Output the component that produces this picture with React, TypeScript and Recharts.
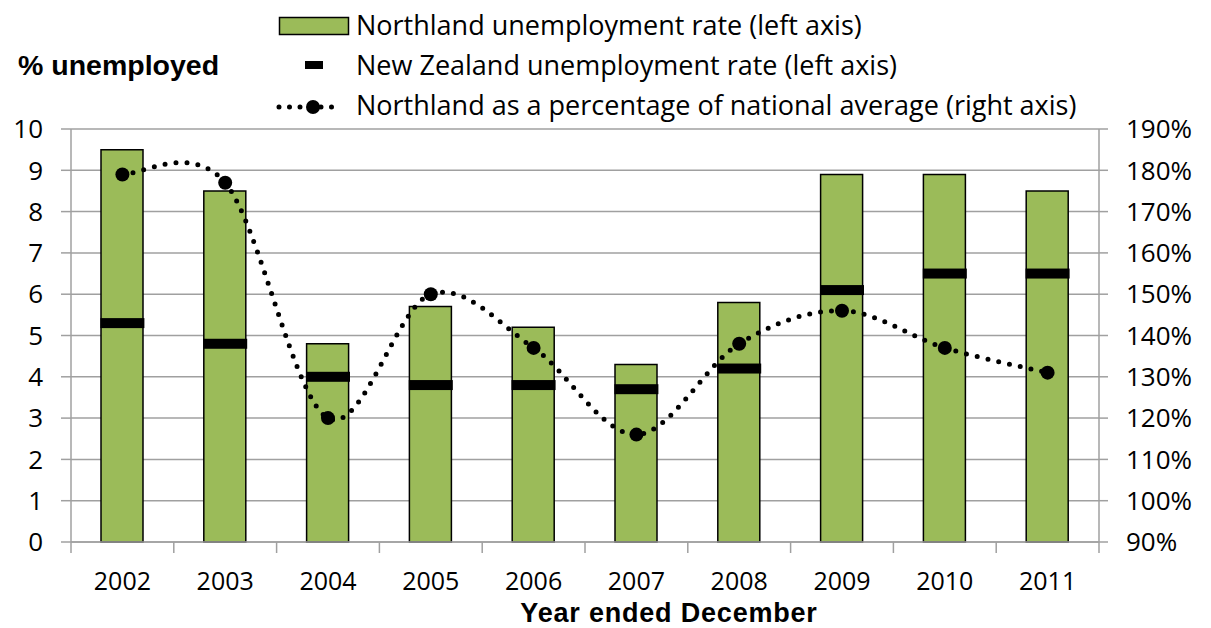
import React from "react";
import {
  Bar,
  CartesianGrid,
  ComposedChart,
  Line,
  XAxis,
  YAxis,
} from "recharts";

const years = ["2002", "2003", "2004", "2005", "2006", "2007", "2008", "2009", "2010", "2011"];
const northlandRate = [9.5, 8.5, 4.8, 5.7, 5.2, 4.3, 5.8, 8.9, 8.9, 8.5];
const nzRate = [5.3, 4.8, 4.0, 3.8, 3.8, 3.7, 4.2, 6.1, 6.5, 6.5];
const ratioPct = [179, 177, 120, 150, 137, 116, 138, 146, 137, 131];
const leftTicks = [0, 1, 2, 3, 4, 5, 6, 7, 8, 9, 10];
const rightTicks = [90, 100, 110, 120, 130, 140, 150, 160, 170, 180, 190];

const GREEN = "#9BBB59";
const GRID = "#A0A0A0";
const FONT = "'Open Sans', sans-serif";
const BOLD_FONT = "'Liberation Sans', Arial, sans-serif";

const W = 1211;
const H = 628;
const PLOT_LEFT = 71;
const PLOT_RIGHT = 1099;
const PLOT_TOP = 129;
const PLOT_BOTTOM = 542;
const BAND = (PLOT_RIGHT - PLOT_LEFT) / years.length;

// excel-like smoothed line (catmull-rom as bezier segments)
const curveExcel = (context: any) => {
  let pts: [number, number][] = [];
  return {
    areaStart() {},
    areaEnd() {},
    lineStart() {
      pts = [];
    },
    point(x: number, y: number) {
      pts.push([+x, +y]);
    },
    lineEnd() {
      if (!pts.length) return;
      context.moveTo(pts[0][0], pts[0][1]);
      for (let i = 0; i < pts.length - 1; i++) {
        const p0 = pts[i - 1] || pts[i];
        const p1 = pts[i];
        const p2 = pts[i + 1];
        const p3 = pts[i + 2] || p2;
        context.bezierCurveTo(
          p1[0] + (p2[0] - p0[0]) / 6,
          p1[1] + (p2[1] - p0[1]) / 6,
          p2[0] - (p3[0] - p1[0]) / 6,
          p2[1] - (p3[1] - p1[1]) / 6,
          p2[0],
          p2[1]
        );
      }
    },
  };
};

const data = years.map((year, i) => ({
  year,
  northland: northlandRate[i],
  nz: nzRate[i],
  ratio: ratioPct[i],
}));

const NzMark = (props: any) => {
  const { cx, cy, index } = props;
  if (cx == null || cy == null) return <g key={index} />;
  return <rect key={index} x={cx - 22} y={cy - 5} width={44} height={10} fill="#000" />;
};

const YearTick = (props: any) => {
  const { x, y, payload, index } = props;
  return (
    <g>
      <line x1={x - BAND / 2} x2={x - BAND / 2} y1={y} y2={y + 11} stroke={GRID} strokeWidth={1.5} />
      {index === years.length - 1 && (
        <line x1={x + BAND / 2} x2={x + BAND / 2} y1={y} y2={y + 11} stroke={GRID} strokeWidth={1.5} />
      )}
      <text x={x} y={y + 48} textAnchor="middle" fontSize={25} fontFamily={FONT} fill="#000">
        {payload.value}
      </text>
    </g>
  );
};

const tickStyle = { fontSize: 26, fontFamily: FONT, fill: "#000" };

const App: React.FC = () => {
  return (
    <div style={{ position: "absolute", left: 0, top: 0, width: W, height: H, background: "#fff" }}>
      <ComposedChart
        width={W}
        height={H}
        data={data}
        margin={{ top: PLOT_TOP, right: 0, bottom: 0, left: 0 }}
        barCategoryGap={0}
      >
        <CartesianGrid yAxisId="left" vertical={false} stroke={GRID} strokeWidth={1.5} />
        <XAxis
          dataKey="year"
          height={H - PLOT_BOTTOM}
          axisLine={{ stroke: GRID, strokeWidth: 1.5 }}
          tickLine={false}
          tickSize={0}
          tickMargin={0}
          tick={<YearTick />}
          interval={0}
        />
        <YAxis
          yAxisId="left"
          width={PLOT_LEFT}
          domain={[0, 10]}
          ticks={leftTicks}
          interval={0}
          axisLine={{ stroke: GRID, strokeWidth: 1.5 }}
          tickLine={{ stroke: GRID, strokeWidth: 1.5 }}
          tickSize={10}
          tickMargin={18}
          tick={tickStyle}
        />
        <YAxis
          yAxisId="right"
          orientation="right"
          width={W - PLOT_RIGHT}
          domain={[90, 190]}
          ticks={rightTicks}
          interval={0}
          tickFormatter={(v: number) => `${v}%`}
          axisLine={{ stroke: GRID, strokeWidth: 1.5 }}
          tickLine={{ stroke: GRID, strokeWidth: 1.5 }}
          tickSize={9}
          tickMargin={18}
          tick={{ ...tickStyle, textAnchor: "start" }}
        />
        <Bar
          yAxisId="left"
          dataKey="northland"
          fill={GREEN}
          stroke="#000"
          strokeWidth={1.5}
          barSize={42}
          isAnimationActive={false}
        />
        <Line
          yAxisId="left"
          dataKey="nz"
          stroke="none"
          dot={NzMark}
          activeDot={false}
          isAnimationActive={false}
        />
        <Line
          yAxisId="right"
          dataKey="ratio"
          type={curveExcel as any}
          stroke="#000"
          strokeWidth={5}
          strokeDasharray="0 11"
          strokeLinecap="round"
          dot={{ r: 7, fill: "#000", stroke: "none" }}
          activeDot={false}
          isAnimationActive={false}
        />
      </ComposedChart>

      <svg
        width={W}
        height={H}
        style={{ position: "absolute", left: 0, top: 0, pointerEvents: "none" }}
        fontFamily={FONT}
      >
        <text x={18} y={75} fontSize={28.5} fontWeight="bold" fontFamily={BOLD_FONT} fill="#000">
          % unemployed
        </text>

        <rect x={279.5} y={17.5} width={69} height={17} fill={GREEN} stroke="#000" strokeWidth={1.5} />
        <text x={356} y={35} fontSize={27} fill="#000">
          Northland unemployment rate (left axis)
        </text>

        <rect x={305} y={61} width={18} height={8} fill="#000" />
        <text x={356} y={75} fontSize={27} fill="#000">
          New Zealand unemployment rate (left axis)
        </text>

        <line
          x1={279}
          x2={342}
          y1={107}
          y2={107}
          stroke="#000"
          strokeWidth={5}
          strokeDasharray="0 10.5"
          strokeLinecap="round"
        />
        <circle cx={313} cy={107} r={7} fill="#000" />
        <text x={356} y={115} fontSize={27} fill="#000">
          Northland as a percentage of national average (right axis)
        </text>

        <text
          x={669}
          y={622}
          fontSize={27}
          fontWeight="bold"
          fontFamily={BOLD_FONT}
          letterSpacing={0.8}
          textAnchor="middle"
          fill="#000"
        >
          Year ended December
        </text>
      </svg>
    </div>
  );
};

export default App;
